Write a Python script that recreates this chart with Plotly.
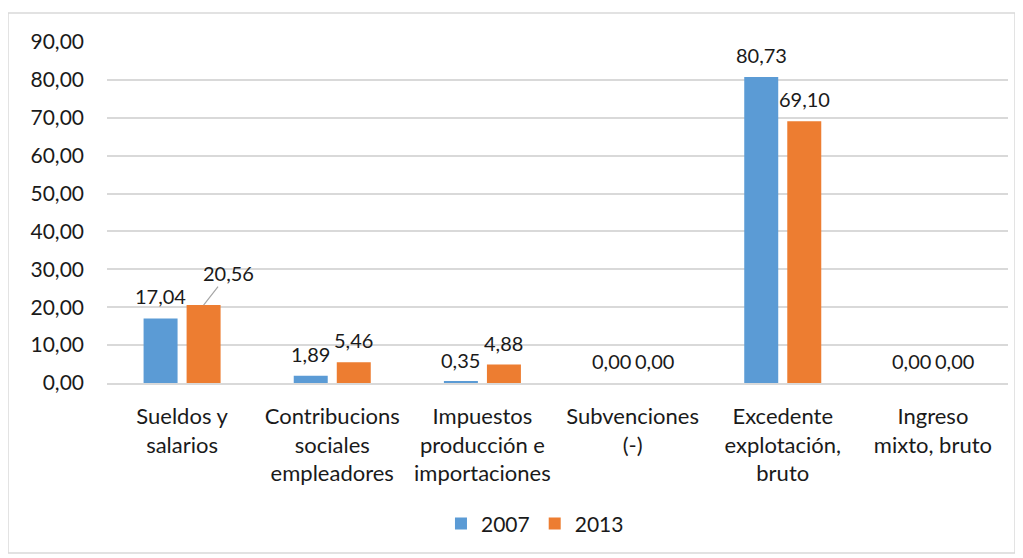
import plotly.graph_objects as go

categories = ["Sueldos y<br>salarios", "Contribucions<br>sociales<br>empleadores",
              "Impuestos<br>producción e<br>importaciones", "Subvenciones<br>(-)",
              "Excedente<br>explotación,<br>bruto", "Ingreso<br>mixto, bruto"]
vals_2007 = [17.04, 1.89, 0.35, 0.00, 80.73, 0.00]
vals_2013 = [20.56, 5.46, 4.88, 0.00, 69.10, 0.00]
series = [("2007", vals_2007, "#5b9bd5", -21.5), ("2013", vals_2013, "#ed7d31", 21.5)]

FONT = "Lato"
txt_color = "#1a1a1a"


def fmt(v):
    return f"{v:.2f}".replace(".", ",")


fig = go.Figure()
for name, vals, col, _ in series:
    fig.add_trace(go.Bar(name=name, x=categories, y=vals, marker_color=col,
                         marker_line_width=0))

# data labels, excel style (one moved off with a leader line)
annots = []
for name, vals, col, shift in series:
    for cat, v in zip(categories, vals):
        if name == "2013" and v == 20.56:
            annots.append(dict(x=cat, y=v, xref="x", yref="y", text=fmt(v), xshift=shift,
                               showarrow=True, arrowhead=0, arrowwidth=1.2, arrowcolor="#a6a6a6",
                               ax=25, ay=-32, standoff=0,
                               font=dict(family=FONT, size=20, color=txt_color)))
        else:
            annots.append(dict(x=cat, y=v, xref="x", yref="y", text=fmt(v), xshift=shift,
                               yshift=8, yanchor="bottom", showarrow=False,
                               font=dict(family=FONT, size=20, color=txt_color)))

fig.update_layout(
    width=1010, height=550,
    margin=dict(l=99, r=10, t=34, b=175),
    paper_bgcolor="white", plot_bgcolor="white",
    separators=",.",
    barmode="group", bargap=0.427, bargroupgap=0.21,
    font=dict(family=FONT, size=21, color=txt_color),
    annotations=annots,
    legend=dict(orientation="h", x=0.475, y=-0.413, xanchor="center", yanchor="middle",
                font=dict(family=FONT, size=21, color=txt_color), itemwidth=30),
    shapes=[dict(type="rect", xref="paper", yref="paper", x0=-0.1099, x1=1.0078,
                 y0=-0.4985, y1=1.085, line=dict(color="#d9d9d9", width=1.5))],
)
fig.update_yaxes(range=[0, 90], dtick=10, tickformat=".2f", showgrid=True,
                 gridcolor="#d9d9d9", gridwidth=1.5, zeroline=False, showline=False,
                 ticklabelstandoff=22, tickfont=dict(size=21))
fig.update_xaxes(showline=True, linecolor="#d9d9d9", linewidth=1.5, ticks="",
                 ticklabelstandoff=13, tickfont=dict(size=22), tickangle=0)

fig.write_html("out.html")
